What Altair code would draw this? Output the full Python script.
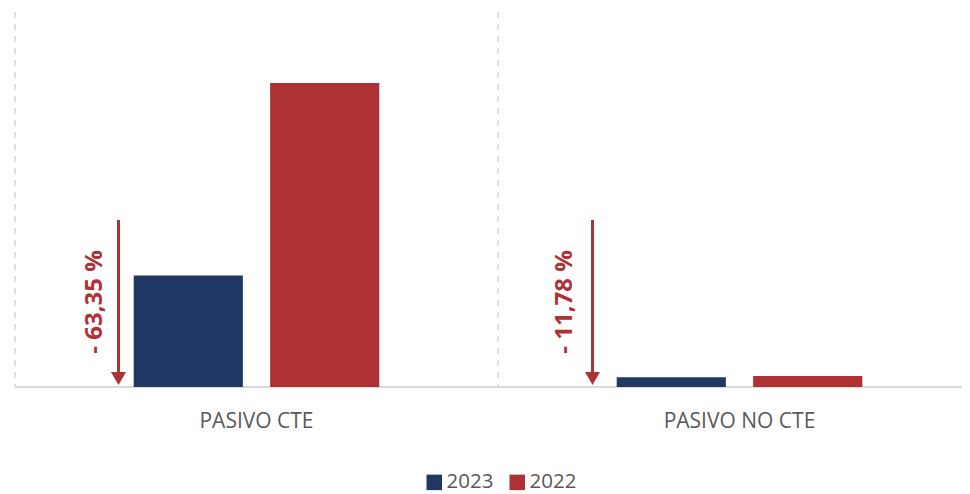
import altair as alt
import pandas as pd

categories = ["PASIVO CTE", "PASIVO NO CTE"]
years = ["2023", "2022"]
values_2023 = [111.4, 9.7]
values_2022 = [304.0, 11.0]
changes = ["- 63,35 %", "- 11,78 %"]

NAVY = "#203864"
RED = "#AE3234"
GREY_TEXT = "#595959"
FONT = "Open Sans"

# style: horizontal pixel shifts of each annotation from its category centre
ARROW_SHIFT = {"PASIVO CTE": -138, "PASIVO NO CTE": -147}
TEXT_SHIFT = {"PASIVO CTE": -162, "PASIVO NO CTE": -175}

rows = []
for c, v23, v22 in zip(categories, values_2023, values_2022):
    rows.append({"cat": c, "year": "2023", "value": v23})
    rows.append({"cat": c, "year": "2022", "value": v22})
bars_df = pd.DataFrame(rows)
ann_df = pd.DataFrame({"cat": categories, "label": changes})

x_scale = alt.Scale(domain=categories, range=[0, 966], paddingInner=0, paddingOuter=0)
y_scale = alt.Scale(domain=[0, 375])

x_axis = alt.Axis(
    title=None, grid=False, domain=False, ticks=False,
    labelFont=FONT, labelFontSize=21, labelColor=GREY_TEXT, labelPadding=23, labelAngle=0,
)

separators = alt.Chart(ann_df).mark_rule(
    color="#d6d6d6", strokeWidth=1.5, strokeDash=[6, 6]
).encode(
    x=alt.X("cat:N", scale=x_scale, axis=x_axis, sort=categories, bandPosition=0),
    y=alt.value(0),
    y2=alt.value(375),
)

baseline = alt.Chart(ann_df).mark_rule(color="#d9d9d9", strokeWidth=2).encode(
    y=alt.Y("datum_zero:Q", scale=y_scale, axis=None),
    x=alt.value(0),
    x2=alt.value(947),
).transform_calculate(datum_zero="0")

bars = alt.Chart(bars_df).mark_bar().encode(
    x=alt.X("cat:N", scale=x_scale, axis=x_axis, sort=categories),
    xOffset=alt.XOffset("year:N", scale=alt.Scale(domain=years, paddingInner=0.2, paddingOuter=0.87)),
    y=alt.Y("value:Q", scale=y_scale, axis=None),
    color=alt.Color(
        "year:N",
        scale=alt.Scale(domain=years, range=[NAVY, RED]),
        legend=alt.Legend(
            title=None, orient="none", direction="horizontal", legendX=409, legendY=460,
            symbolType="square", symbolSize=240, symbolStrokeWidth=0, labelFont=FONT,
            labelFontSize=20.5, labelColor=GREY_TEXT, labelOffset=2, columnPadding=13,
        ),
    ),
)

layers = [separators, baseline, bars]
for c in categories:
    sub = alt.Chart(ann_df).transform_filter(alt.datum.cat == c)
    layers.append(
        sub.mark_rule(color=RED, strokeWidth=3, xOffset=ARROW_SHIFT[c]).encode(
            x=alt.X("cat:N", scale=x_scale, sort=categories),
            y=alt.value(208),
            y2=alt.value(362),
        )
    )
    layers.append(
        sub.mark_point(
            shape="triangle-down", filled=True, color=RED, size=225, opacity=1,
            xOffset=ARROW_SHIFT[c],
        ).encode(
            x=alt.X("cat:N", scale=x_scale, sort=categories),
            y=alt.value(366.5),
        )
    )
    layers.append(
        sub.mark_text(
            angle=270, align="center", baseline="middle", font=FONT, fontSize=24,
            fontWeight="bold", color=RED, xOffset=TEXT_SHIFT[c],
        ).encode(
            x=alt.X("cat:N", scale=x_scale, sort=categories),
            y=alt.value(290),
            text="label:N",
        )
    )

chart = alt.layer(*layers).properties(
    width=947, height=375,
    autosize=alt.AutoSizeParams(type="none"),
    padding={"left": 7, "top": 4, "right": 0, "bottom": 107},
).configure_view(stroke=None)

chart.save("out.html", embed_options={"renderer": "svg", "actions": False})
